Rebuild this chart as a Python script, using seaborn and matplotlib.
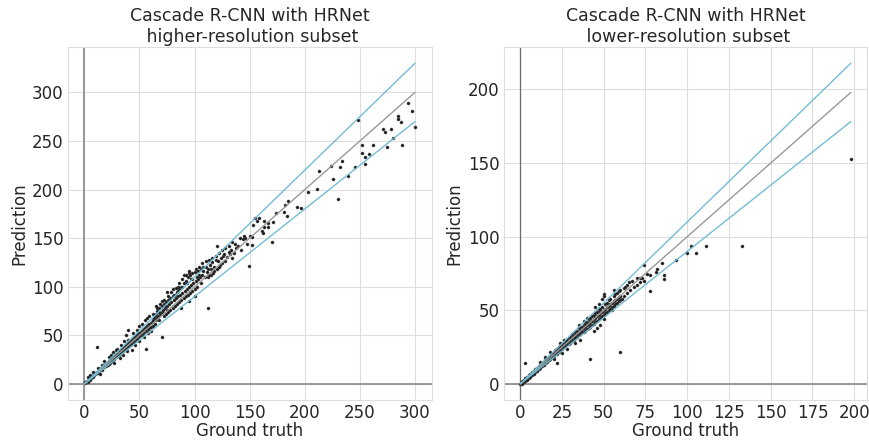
import matplotlib
matplotlib.use("Agg")
import matplotlib.pyplot as plt
from matplotlib.ticker import MultipleLocator
import seaborn as sns
import numpy as np

# ---------------- data: higher-resolution subset (ground truth, prediction) ----------------
hi_pairs = [
    (1,1),(1,2),(2,2),(2,3),(3,3),(3,2),(4,4),(4,5),(5,5),(5,4),(6,6),(6,7),(7,7),(7,8),(8,8),(8,7),
    (9,9),(9,10),(10,10),(10,11),(11,11),(11,12),(12,12),(12,11),(13,13),(13,14),(14,14),(14,15),
    (15,15),(15,16),(16,16),(16,14),(17,17),(17,19),(18,18),(18,17),(19,19),(19,21),(20,20),(20,18),
    (11,38),(5,9),(8,12),(14,10),(3,7),(18,24),(16,20),(12,16),
    (21,22),(21,20),(22,23),(22,21),(23,24),(23,22),(24,25),(24,26),(25,24),(25,27),(26,27),(26,25),
    (27,28),(27,26),(28,29),(28,30),(29,28),(29,31),(30,31),(30,29),(31,32),(31,30),(32,34),(32,31),
    (33,34),(33,32),(34,36),(34,33),(35,37),(35,34),(36,38),(36,35),(37,39),(37,36),(38,40),(38,37),
    (39,41),(39,38),(40,42),(40,39),(24,30),(26,33),(30,36),(33,40),(36,44),(38,50),(40,55),(27,22),
    (32,27),(35,30),(39,34),(22,28),(29,35),(40,45),
    (41,43),(41,40),(42,44),(42,41),(43,45),(43,42),(44,46),(44,43),(45,47),(45,44),(46,48),(46,45),
    (47,49),(47,46),(48,50),(48,47),(49,51),(49,48),(50,52),(50,49),(51,53),(51,50),(52,54),(52,51),
    (53,56),(53,52),(54,57),(54,53),(55,58),(55,54),(56,59),(56,55),(57,60),(57,56),(58,61),(58,57),
    (59,62),(59,58),(60,63),(60,59),(44,52),(48,56),(50,60),(52,62),(55,66),(57,68),(59,70),(56,36),
    (46,40),(50,44),(54,48),(58,52),(43,35),(60,54),
    (61,64),(62,66),(62,60),(63,68),(64,62),(64,70),(65,72),(65,66),(66,68),(66,75),(67,70),(68,78),
    (68,66),(69,72),(70,48),(70,74),(70,80),(71,76),(72,70),(72,82),(73,78),(74,72),(74,84),(75,80),
    (75,76),(76,86),(76,74),(77,82),(78,88),(78,76),(79,84),(80,90),(80,78),(81,86),(82,92),(82,80),
    (83,88),(84,95),(84,82),(85,90),(86,98),(86,84),(87,92),(88,100),(88,86),(89,94),(90,104),(90,88),
    (91,96),(92,106),(92,90),(93,98),(94,110),(94,92),(95,100),(96,112),(96,94),(97,102),(98,108),
    (98,96),(99,104),(100,115),(100,98),(101,106),(102,110),(102,100),(103,108),(104,112),(105,110),
    (106,118),(106,104),(107,112),(108,116),(109,110),(110,120),(75,95),(80,98),(85,100),(90,112),
    (95,114),(65,80),(70,85),(100,90),(95,85),(88,78),(112,78),
    (62,72),(66,78),(69,82),(72,86),(76,90),(79,95),(83,99),(86,104),(89,108),(92,112),(95,116),
    (98,114),(101,118),(104,120),(107,124),(110,126),(113,128),(116,130),(119,132),(122,135),
    (125,138),(128,140),(131,142),(134,146),(68,74),(73,80),(77,86),(81,92),(85,96),(89,100),
    (93,104),(97,108),(103,116),(108,120),(112,110),(115,112),(118,116),(123,122),(128,126),
    (131,136),(134,130),(139,142),(142,138),(141,150),(146,150),
    (111,115),(112,118),(113,112),(114,122),(115,118),(116,125),(117,114),(118,120),(119,128),
    (120,142),(120,118),(121,126),(122,120),(124,130),(125,124),(126,132),(127,134),(129,131),
    (132,134),(133,138),(136,135),(137,144),(138,140),(144,149),(145,152),(148,144),(150,152),
    (152,143),(152,151),(149,121),(153,164),(155,171),(157,168),(158,171),(161,157),(162,155),
    (163,162),(163,168),(167,161),(167,166),(170,146),(171,167),(174,176),(181,177),(182,184),
    (184,173),(185,188),
    (193,182),(197,181),(203,197),(211,201),(213,219),(224,224),(226,211),(230,190),(232,223),
    (234,229),(239,214),(246,223),(248,272),(252,238),(252,246),(255,234),(255,226),(258,237),
    (262,246),(271,262),(273,259),(275,244),(278,262),(280,253),(285,276),(285,273),(287,270),
    (288,246),(294,289),(297,281),(300,264),
]

# ---------------- data: lower-resolution subset (ground truth, prediction) ----------------
lo_pairs = [
    (0,0),(1,1),(1,0),(1,2),(2,2),(2,1),(2,3),(3,3),(3,2),(3,4),(3,14),(4,4),(4,3),(4,5),(5,5),(5,4),
    (5,6),(6,6),(6,5),(6,7),(7,7),(7,6),(7,8),(8,8),(8,7),(8,9),(9,9),(9,8),(9,10),(10,10),(10,9),(10,11),
    (11,11),(11,10),(11,12),(12,12),(12,11),(12,13),(13,13),(13,12),(13,14),(14,14),(14,13),(14,15),
    (15,15),(15,14),(15,16),(16,16),(16,15),(16,17),(17,17),(17,16),(17,18),(18,18),(18,17),(18,19),
    (19,19),(19,18),(19,20),(20,20),(20,19),(20,21),(12,15),(15,18),(18,22),(20,17),
    (21,21),(21,20),(21,23),(22,22),(22,14),(22,20),(22,24),(23,23),(23,22),(23,25),(24,24),(24,23),
    (24,26),(25,25),(25,24),(25,27),(26,26),(26,25),(26,28),(27,27),(27,26),(27,29),(28,28),(28,27),
    (28,30),(29,29),(29,27),(29,31),(30,30),(30,28),(30,32),(25,21),(28,24),(24,28),(26,30),
    (31,31),(31,29),(31,33),(32,32),(32,30),(32,34),(33,33),(33,31),(33,35),(34,34),(34,32),(34,36),
    (35,35),(35,33),(35,38),(36,36),(36,34),(36,38),(37,37),(37,35),(37,39),(38,38),(38,35),(38,40),
    (39,39),(39,36),(39,41),(40,40),(40,37),(40,42),(33,28),(36,30),(38,43),(40,45),(35,40),(31,34),
    (41,41),(41,38),(41,44),(42,17),(42,42),(42,39),(42,45),(43,43),(43,40),(43,46),(44,44),(44,41),
    (44,47),(45,45),(45,42),(45,48),(46,46),(46,43),(46,49),(47,47),(47,44),(47,50),(48,48),(48,45),
    (48,51),(49,49),(49,46),(49,52),(50,50),(50,47),(50,61),(50,60),(49,58),(44,36),(46,38),(48,40),
    (50,44),(45,52),(47,54),
    (51,51),(51,48),(51,54),(52,52),(52,49),(52,55),(53,53),(53,50),(53,57),(54,54),(54,51),(54,58),
    (55,55),(55,52),(55,50),(56,56),(56,53),(56,60),(56,64),(57,57),(57,54),(57,61),(58,58),(58,55),
    (58,62),(59,59),(59,56),(59,63),(60,22),(60,60),(60,57),(60,64),
    (61,58),(62,65),(62,60),(63,66),(64,62),(64,67),(65,69),(66,64),(67,70),(68,66),(70,67),(70,72),
    (72,69),(72,72),(74,81),(74,70),(73,72),(76,75),(78,74),(78,63),(81,76),(82,78),(86,74),(86,71),
    (85,82),(93,84),(100,89),(102,94),(105,89),(111,94),(133,94),(198,153),
]

hi_truth = [p[0] for p in hi_pairs]
hi_pred = [p[1] for p in hi_pairs]
lo_truth = [p[0] for p in lo_pairs]
lo_pred = [p[1] for p in lo_pairs]

titles = ["Cascade R-CNN with HRNet\n higher-resolution subset",
          "Cascade R-CNN with HRNet\n lower-resolution subset"]

sns.set_theme(style="whitegrid", rc={"grid.color": "#dedede", "grid.linewidth": 0.8,
                                      "axes.edgecolor": "#dedede", "axes.linewidth": 0.8})
plt.rcParams["font.family"] = ["DejaVu Sans"]

fig = plt.figure(figsize=(8.7, 4.41), dpi=100)
ax1 = fig.add_axes([0.078, 0.093, 0.418, 0.800])
ax2 = fig.add_axes([0.579, 0.093, 0.418, 0.800])

blue = "#74bcd4"
fs = 12
for ax, gt, pr, title, vcol, vlw in [(ax1, hi_truth, hi_pred, titles[0], "#888888", 1.2),
                                     (ax2, lo_truth, lo_pred, titles[1], "#6a6a6a", 0.9)]:
    ax.axhline(0, color="#888888", lw=1.2, zorder=1)
    ax.axvline(0, color=vcol, lw=vlw, zorder=1)
    sns.scatterplot(x=gt, y=pr, ax=ax, s=5, color="#1a1a1a", edgecolor="#555555",
                    linewidth=0.3, zorder=2)
    m = max(gt)
    ax.plot([0, m], [0, m], color="#999999", lw=1, zorder=3)
    ax.plot([0, m], [0, 1.1 * m], color=blue, lw=1, zorder=3)
    ax.plot([0, m], [0, 0.9 * m], color=blue, lw=1, zorder=3)
    ax.set_title(title, fontsize=12.5, color="#262626", pad=4)
    ax.set_xlabel("Ground truth", fontsize=fs, labelpad=0, color="#262626")
    ax.set_ylabel("Prediction", fontsize=fs, labelpad=3, color="#262626")
    ax.tick_params(labelsize=fs, length=0, pad=3, colors="#262626")

ax2.xaxis.set_major_locator(MultipleLocator(25))

fig.savefig("out.png", dpi=100)
